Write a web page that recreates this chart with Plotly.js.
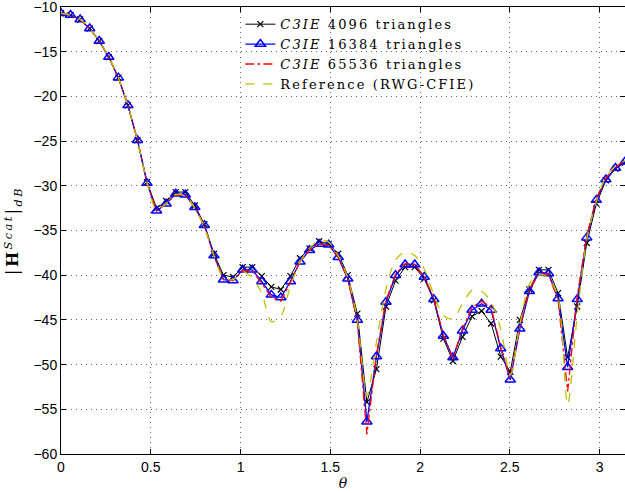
<!DOCTYPE html>
<html>
<head>
<meta charset="utf-8">
<script src="https://cdn.plot.ly/plotly-3.0.1.min.js"></script>
<style>
html,body{margin:0;padding:0;background:#fff;}
#chart{width:625px;height:493px;}
.legendtext{letter-spacing:2.1px;}
.ytitle{letter-spacing:2.5px;}
</style>
</head>
<body>
<div id="chart"></div>
<script>
const theta = [0, 0.0532, 0.1065, 0.1597, 0.2130, 0.2662, 0.3195, 0.3727, 0.4260, 0.4792,
  0.5325, 0.5857, 0.6390, 0.6922, 0.7455, 0.7987, 0.8520, 0.9052, 0.9584, 1.0117,
  1.0649, 1.1182, 1.1714, 1.2247, 1.2779, 1.3312, 1.3844, 1.4377, 1.4909, 1.5442,
  1.5974, 1.6507, 1.7039, 1.7572, 1.8104, 1.8637, 1.9169, 1.9702, 2.0234, 2.0766,
  2.1299, 2.1831, 2.2364, 2.2896, 2.3429, 2.3961, 2.4494, 2.5026, 2.5559, 2.6091,
  2.6624, 2.7156, 2.7689, 2.8221, 2.8754, 2.9286, 2.9819, 3.0351, 3.0884, 3.1416];

const c3ie4096 = [-10.7, -10.9, -11.4, -12.4, -13.8, -15.6, -17.9, -21.0, -24.9, -29.6,
  -32.5, -31.7, -30.7, -30.7, -32.2, -34.3, -37.6, -40.0, -40.2, -39.1,
  -39.1, -40.1, -41.3, -41.6, -40.1, -38.1, -37.0, -36.2, -36.5, -37.6,
  -40.0, -44.3, -54.2, -50.5, -43.5, -40.6, -39.1, -39.1, -40.4, -42.8,
  -47.1, -49.6, -46.9, -44.6, -44.0, -45.4, -49.1, -50.8, -45.0, -41.6,
  -39.4, -39.4, -42.0, -49.2, -43.5, -36.4, -32.0, -29.4, -28.1, -27.4];

const c3ie16384 = [-10.7, -10.9, -11.4, -12.4, -13.8, -15.6, -17.9, -21.0, -24.9, -29.7,
  -32.8, -32.0, -30.9, -31.0, -32.4, -34.4, -37.8, -40.5, -40.6, -39.4,
  -39.4, -40.7, -42.2, -42.5, -40.7, -38.5, -37.2, -36.5, -36.6, -38.0,
  -40.4, -45.0, -56.4, -49.1, -43.0, -40.0, -38.8, -38.8, -40.2, -42.7,
  -46.8, -49.2, -46.2, -43.9, -43.2, -43.9, -48.2, -51.7, -46.0, -41.8,
  -39.7, -39.8, -42.6, -50.3, -42.7, -35.8, -31.6, -29.3, -28.0, -27.3];

const c3ie65536 = [-10.7, -10.9, -11.4, -12.4, -13.8, -15.6, -17.9, -21.0, -24.9, -29.7,
  -32.8, -32.0, -31.0, -31.1, -32.4, -34.5, -37.8, -40.5, -40.6, -39.5,
  -39.5, -40.9, -42.5, -42.9, -40.8, -38.5, -37.2, -36.5, -36.6, -38.0,
  -40.4, -45.2, -57.8, -48.9, -42.8, -39.9, -38.7, -38.8, -40.2, -42.6,
  -46.7, -49.3, -46.0, -43.6, -42.9, -43.6, -48.1, -51.5, -45.8, -41.6,
  -39.8, -39.9, -42.8, -53.0, -42.4, -35.6, -31.4, -29.1, -27.9, -27.2];

const reference = [-10.7, -10.9, -11.4, -12.4, -13.8, -15.6, -17.9, -21.0, -24.9, -29.6,
  -32.7, -32.0, -31.0, -31.1, -32.5, -34.6, -37.8, -40.3, -40.5, -39.6,
  -40.3, -42.0, -45.2, -44.6, -41.2, -38.6, -37.0, -36.1, -36.3, -37.8,
  -40.3, -45.0, -53.5, -47.5, -41.5, -38.3, -37.4, -37.8, -39.3, -42.2,
  -44.5, -44.9, -43.2, -41.7, -41.8, -43.0, -46.0, -51.2, -45.5, -41.0,
  -39.9, -40.3, -42.5, -54.5, -44.5, -36.0, -31.8, -29.0, -27.8, -27.2];

const legendNames = [
  '<i>C3IE</i> 4096 triangles',
  '<i>C3IE</i> 16384 triangles',
  '<i>C3IE</i> 65536 triangles',
  'Reference (RWG-CFIE)'
];
const xTicks = [0, 0.5, 1, 1.5, 2, 2.5, 3];
const yTicks = [-60, -55, -50, -45, -40, -35, -30, -25, -20, -15, -10];

const traces = [
  {x: theta, y: c3ie4096, name: legendNames[0], mode: 'lines+markers',
   line: {color: '#000000', width: 1},
   marker: {symbol: 'x-thin-open', size: 6, color: '#000000', line: {color: '#000000', width: 1.2}}},
  {x: theta, y: c3ie16384, name: legendNames[1], mode: 'lines+markers',
   line: {color: '#0000ff', width: 1.3},
   marker: {symbol: 'triangle-up-open', size: 9, color: '#0000ff', line: {color: '#0000ff', width: 1.5}}},
  {x: theta, y: c3ie65536, name: legendNames[2], mode: 'lines',
   line: {color: '#ff0000', width: 1.3, dash: 'dashdot'}},
  {x: theta, y: reference, name: legendNames[3], mode: 'lines',
   line: {color: '#bfbf00', width: 1.3, dash: 'dash', shape: 'spline', smoothing: 0.8}}
];

const axisCommon = {
  showline: true, linecolor: '#000', linewidth: 1, mirror: 'ticks',
  ticks: 'inside', ticklen: 5, tickcolor: '#000',
  showgrid: true, gridcolor: '#666', griddash: '1px,4px', gridwidth: 1,
  zeroline: false, ticklabeloverflow: 'allow',
  tickfont: {family: 'Liberation Sans, Arial, sans-serif', size: 14, color: '#000'}
};

const layout = {
  width: 625, height: 493,
  margin: {l: 61, r: 0, t: 7, b: 39},
  paper_bgcolor: '#fff', plot_bgcolor: '#fff',
  showlegend: true,
  legend: {
    x: 0.318, y: 0.995, xanchor: 'left', yanchor: 'top',
    bgcolor: 'rgba(0,0,0,0)', borderwidth: 0,
    font: {family: 'DejaVu Serif, serif', size: 13, color: '#000'},
    tracegroupgap: 0, itemwidth: 30
  },
  xaxis: Object.assign({}, axisCommon, {
    range: [0, 3.1416], tickvals: xTicks, ticktext: xTicks.map(String),
    title: {text: '<i>θ</i>', font: {family: 'DejaVu Serif, serif', size: 14, color: '#000'}, standoff: 2}
  }),
  yaxis: Object.assign({}, axisCommon, {
    range: [-60, -10], tickvals: yTicks,
    title: {text: '|<b>H</b><sup><i>Scat</i></sup>|<sub><i>dB</i></sub>', font: {family: 'DejaVu Serif, serif', size: 16, color: '#000'}, standoff: 10}
  })
};

Plotly.newPlot('chart', traces, layout, {displayModeBar: false, staticPlot: true});
</script>
</body>
</html>
